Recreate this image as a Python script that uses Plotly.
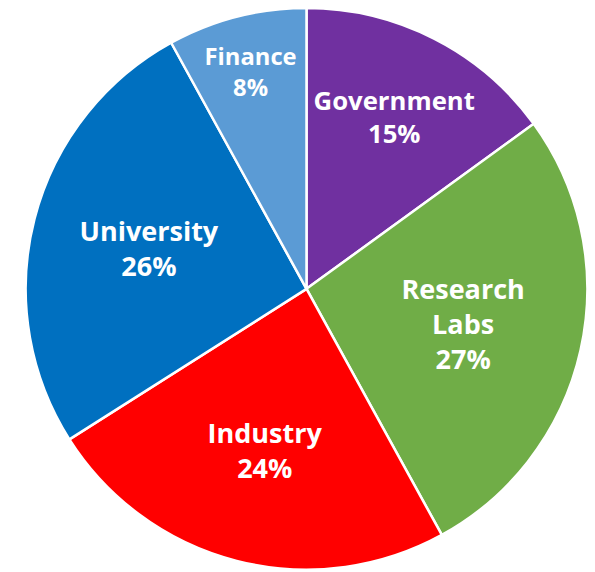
import plotly.graph_objects as go

labels = ["Government", "Research<br>Labs", "Industry", "University", "Finance"]
values = [15, 27, 24, 26, 8]
colors = ["#7030A0", "#70AD47", "#FF0000", "#0070C0", "#5B9BD5"]

fig = go.Figure(go.Pie(
    labels=labels,
    values=values,
    sort=False,
    direction="clockwise",
    rotation=0,
    marker=dict(colors=colors, line=dict(color="white", width=2.5)),
    texttemplate="%{label}<br>%{percent:.0%}",
    textposition="inside",
    insidetextorientation="horizontal",
    textfont=dict(family="Open Sans", size=27, color="white", weight="bold"),
    domain=dict(x=[0.0294, 0.974], y=[0.018, 1.0]),
    showlegend=False,
    hoverinfo="skip",
))
fig.update_layout(
    width=595, height=572,
    margin=dict(l=0, r=0, t=0, b=0),
    paper_bgcolor="white",
    plot_bgcolor="white",
)
fig.write_html("out.html")
